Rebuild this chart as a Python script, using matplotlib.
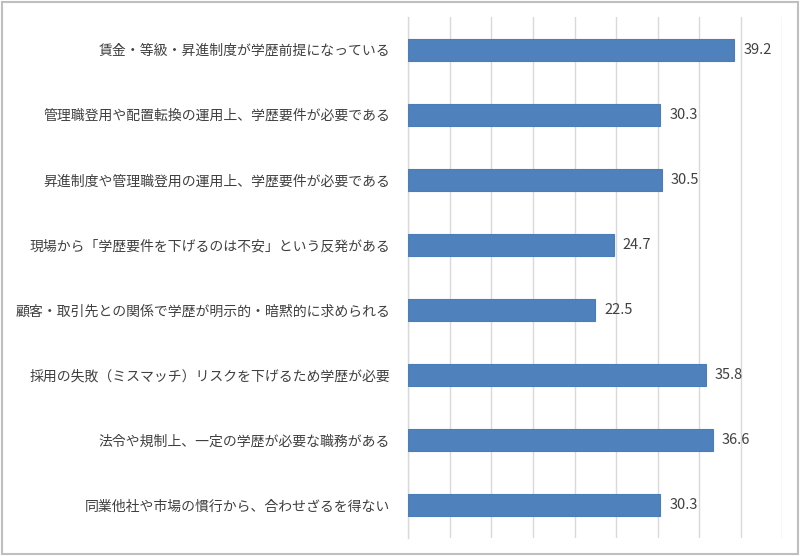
import matplotlib
matplotlib.use("Agg")
import matplotlib.pyplot as plt
from matplotlib.patches import Rectangle

plt.rcParams['font.family'] = ['Noto Sans CJK JP', 'DejaVu Sans']

# data (top to bottom)
categories = [
    "賃金・等級・昇進制度が学歴前提になっている",
    "管理職登用や配置転換の運用上、学歴要件が必要である",
    "昇進制度や管理職登用の運用上、学歴要件が必要である",
    "現場から「学歴要件を下げるのは不安」という反発がある",
    "顧客・取引先との関係で学歴が明示的・暗黙的に求められる",
    "採用の失敗（ミスマッチ）リスクを下げるため学歴が必要",
    "法令や規制上、一定の学歴が必要な職務がある",
    "同業他社や市場の慣行から、合わせざるを得ない",
]
values = [39.2, 30.3, 30.5, 24.7, 22.5, 35.8, 36.6, 30.3]

bar_color = "#4F81BD"
text_color = "#404040"
grid_color = "#D9D9D9"

fig = plt.figure(figsize=(8, 5.56), dpi=100)
ax = fig.add_axes([0.5104, 0.0324, 0.4675, 0.937])

pos = list(range(len(categories)))
ax.barh(pos, values, height=0.34, color=bar_color, edgecolor="#4A7EBB",
        linewidth=0.8, zorder=3)

for y, v in zip(pos, values):
    ax.text(v + 1.1, y, f"{v:.1f}", va="center", ha="left",
            fontsize=10.5, color=text_color)

ax.set_xlim(0, 45)
ax.set_ylim(len(categories) - 0.5, -0.5)
ax.set_xticks(range(0, 46, 5))
ax.set_xticklabels([])
ax.tick_params(axis="x", length=0)
ax.grid(axis="x", color=grid_color, linewidth=1, zorder=0)

ax.set_yticks(pos)
ax.set_yticklabels(categories, fontsize=10.0, color=text_color)
ax.tick_params(axis="y", length=0, pad=13)

for side in ["top", "right", "bottom"]:
    ax.spines[side].set_visible(False)
ax.spines["left"].set_color(grid_color)
ax.spines["left"].set_linewidth(1)

# outer frame
fig.patches.append(Rectangle((0.002, 0.003), 0.995, 0.994,
                             transform=fig.transFigure, fill=False,
                             edgecolor="#BFBFBF", linewidth=1.5))

fig.savefig("out.png", dpi=100, facecolor="white")
